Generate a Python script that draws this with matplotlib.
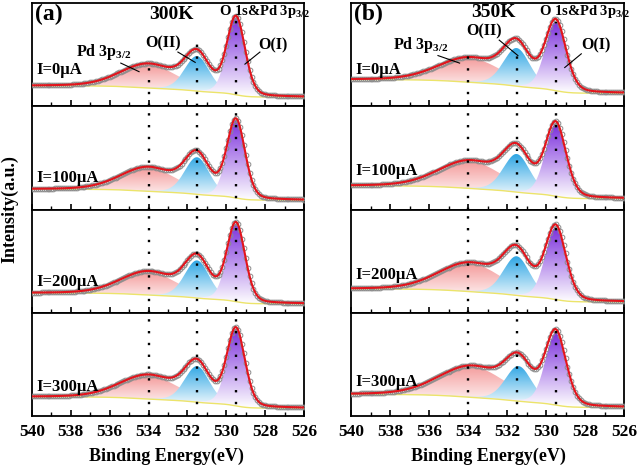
import numpy as np
import matplotlib
matplotlib.use('Agg')
import matplotlib.pyplot as plt
from matplotlib.colors import to_rgb
from matplotlib.patches import PathPatch
from matplotlib.path import Path
from matplotlib.ticker import MultipleLocator

plt.rcParams['font.family'] = ['Liberation Serif', 'DejaVu Serif']
plt.rcParams['font.weight'] = 'bold'
plt.rcParams['mathtext.fontset'] = 'custom'
plt.rcParams['mathtext.rm'] = 'Liberation Serif:bold'
plt.rcParams['mathtext.it'] = 'Liberation Serif:bold'
plt.rcParams['mathtext.bf'] = 'Liberation Serif:bold'
plt.rcParams['mathtext.default'] = 'rm'

# ---------------- data ----------------
dotted_energies = [534.0, 531.5, 529.5]
currents = ['I=0μA', 'I=100μA', 'I=200μA', 'I=300μA']
temps = ['300K', '350K']
panel_tags = ['(a)', '(b)']

# 300 K panel (values in % of each sub-plot height)
a_bg_left = [20.0, 19.7, 19.0, 18.3]
a_bg_right = [9.0, 9.0, 8.5, 7.3]
a_pd_center = [534.0, 534.0, 534.0, 534.0]
a_pd_height = [23.0, 23.0, 22.5, 23.0]
a_pd_fwhm = [3.4, 3.4, 3.4, 3.5]
a_o2_center = [531.5, 531.5, 531.5, 531.5]
a_o2_height = [34.0, 36.0, 36.5, 35.0]
a_o2_fwhm = [1.5, 1.5, 1.5, 1.5]
a_o1_center = [529.5, 529.5, 529.5, 529.5]
a_o1_height = [75.0, 75.5, 75.5, 74.5]
a_o1_fwhm = [1.1, 1.1, 1.1, 1.1]

# 350 K panel
b_bg_left = [26.0, 23.0, 23.0, 20.7]
b_bg_right = [12.7, 10.5, 10.3, 8.0]
b_pd_center = [533.9, 533.9, 533.9, 533.8]
b_pd_height = [23.5, 26.5, 27.5, 30.0]
b_pd_fwhm = [3.8, 3.8, 3.8, 4.0]
b_o2_center = [531.5, 531.5, 531.5, 531.4]
b_o2_height = [37.0, 37.0, 38.0, 34.0]
b_o2_fwhm = [1.6, 1.6, 1.6, 1.6]
b_o1_center = [529.5, 529.5, 529.5, 529.5]
b_o1_height = [67.0, 70.0, 70.0, 70.0]
b_o1_fwhm = [1.25, 1.25, 1.25, 1.25]

# top of the dotted guide lines in the first sub-plot of each panel
a_guide_top = [44, 61, 88]
b_guide_top = [53, 58, 82]

panels = [
    dict(bgL=a_bg_left, bgR=a_bg_right, guide=a_guide_top,
         peaks=[(a_pd_center, a_pd_height, a_pd_fwhm),
                (a_o2_center, a_o2_height, a_o2_fwhm),
                (a_o1_center, a_o1_height, a_o1_fwhm)]),
    dict(bgL=b_bg_left, bgR=b_bg_right, guide=b_guide_top,
         peaks=[(b_pd_center, b_pd_height, b_pd_fwhm),
                (b_o2_center, b_o2_height, b_o2_fwhm),
                (b_o1_center, b_o1_height, b_o1_fwhm)]),
]

peak_colors = ['#f49a9a', '#2ea6e4', '#7b2fdc']


def pvoigt(x, c, h, f, eta=0.2):
    u = (x - c) / f
    g = np.exp(-4 * np.log(2) * u ** 2)
    l = 1.0 / (1 + 4 * u ** 2)
    return h * ((1 - eta) * g + eta * l)


def grad_fill(ax, x, lower, upper, color, z):
    verts = np.concatenate([np.column_stack([x, upper]),
                            np.column_stack([x[::-1], lower[::-1]])])
    patch = PathPatch(Path(verts), facecolor='none', edgecolor='none')
    ax.add_patch(patch)
    ymin, ymax = lower.min(), upper.max()
    n = 256
    t = np.linspace(0, 1, n)[:, None, None]
    rgb = np.array(to_rgb(color))[None, None, :]
    white = np.ones((1, 1, 3))
    img = (1 - t) * white + t * rgb
    im = ax.imshow(img, extent=[x.min(), x.max(), ymin, ymax], origin='lower',
                   aspect='auto', zorder=z, interpolation='bilinear')
    im.set_clip_path(patch)


fig = plt.figure(figsize=(6.38, 4.68), dpi=100)
W, H = 638, 468
lefts = [32 / W, 351 / W]
widths = [272 / W, 273 / W]
top = 1 - 3.3 / H
bot = 1 - 415.7 / H
h = (top - bot) / 4

x = np.linspace(526, 540, 1401)
xm = np.linspace(526, 540, 141)

lab_fs = 11.5
for p in range(2):
    P = panels[p]
    for i in range(4):
        ax = fig.add_axes([lefts[p], top - (i + 1) * h, widths[p], h])
        comps = [pvoigt(x, P['peaks'][k][0][i], P['peaks'][k][1][i], P['peaks'][k][2][i])
                 for k in range(3)]
        total = np.sum(comps, axis=0)
        cum = np.concatenate([[0], np.cumsum((total[1:] + total[:-1]) / 2 * np.diff(x))])
        bg = P['bgR'][i] + (P['bgL'][i] - P['bgR'][i]) * cum / cum[-1]
        for k in range(3):
            grad_fill(ax, x, bg, bg + comps[k], peak_colors[k], 1 + k)
        ax.plot(x, bg, color='#ece46a', lw=1.0, zorder=4)
        env = bg + total
        env_m = np.interp(xm, x, env)
        ax.plot(xm, env_m, ls='none', marker='o', ms=3.4, mfc='none',
                mec='#8c8c8c', mew=0.7, zorder=5)
        ax.plot(x, env, color='#e3141c', lw=1.5, zorder=6)
        for j, e in enumerate(dotted_energies):
            ymax = P['guide'][j] / 100 if i == 0 else 1.0
            ax.axvline(e, ymin=0, ymax=ymax, color='k', ls=(0, (1, 4)), lw=1.7, zorder=7)
        ax.set_xlim(540, 526)
        ax.set_ylim(0, 100)
        ax.set_yticks([])
        ax.xaxis.set_major_locator(MultipleLocator(2))
        ax.xaxis.set_minor_locator(MultipleLocator(1))
        ax.tick_params(axis='x', which='major', direction='in', length=4.5, width=1.2,
                       labelsize=12.5, pad=6, labelbottom=(i == 3))
        ax.tick_params(axis='x', which='minor', direction='in', length=3, width=1.0)
        for sp in ax.spines.values():
            sp.set_linewidth(1.3)
        for lab in ax.get_xticklabels():
            lab.set_fontweight('bold')
        ax.text(539.75, [35, 31, 30, 28][i] if p == 0 else [35.3, 37.3, 36.3, 33][i],
                currents[i], fontsize=12, fontweight='bold', ha='left', va='center', zorder=8)
        if i == 0:
            if p == 0:
                ax.text(539.16, 89.3, panel_tags[p], fontsize=17, fontweight='bold',
                        ha='center', va='center', zorder=8)
                ax.text(532.8, 89.3, temps[p], fontsize=14, fontweight='bold',
                        ha='center', va='center', zorder=8)
                ax.text(528.05, 92.5, 'O 1s&Pd 3p$_{3/2}$', fontsize=10.5, fontweight='bold',
                        ha='center', va='center', zorder=8)
                ax.text(536.3, 53, 'Pd 3p$_{3/2}$', fontsize=lab_fs, fontweight='bold',
                        ha='center', va='center', zorder=8)
                ax.plot([535.43, 534.49], [42, 33.7], color='k', lw=0.8, zorder=8)
                ax.text(533.25, 61, 'O(II)', fontsize=lab_fs, fontweight='bold',
                        ha='center', va='center', zorder=8)
                ax.plot([532.49, 531.6], [52.7, 42.7], color='k', lw=0.8, zorder=8)
                ax.text(527.6, 59.3, 'O(I)', fontsize=lab_fs, fontweight='bold',
                        ha='center', va='center', zorder=8)
                ax.plot([528.27, 529.04], [52.7, 41], color='k', lw=0.8, zorder=8)
            else:
                ax.text(539.13, 89.3, panel_tags[p], fontsize=17, fontweight='bold',
                        ha='center', va='center', zorder=8)
                ax.text(532.72, 91, temps[p], fontsize=14, fontweight='bold',
                        ha='center', va='center', zorder=8)
                ax.text(528.0, 92.5, 'O 1s&Pd 3p$_{3/2}$', fontsize=10.5, fontweight='bold',
                        ha='center', va='center', zorder=8)
                ax.text(536.4, 59.3, 'Pd 3p$_{3/2}$', fontsize=lab_fs, fontweight='bold',
                        ha='center', va='center', zorder=8)
                ax.plot([535.54, 534.43], [49.3, 42], color='k', lw=0.8, zorder=8)
                ax.text(533.2, 72.7, 'O(II)', fontsize=lab_fs, fontweight='bold',
                        ha='center', va='center', zorder=8)
                ax.plot([532.4, 531.44], [64.3, 49.3], color='k', lw=0.8, zorder=8)
                ax.text(527.45, 59.3, 'O(I)', fontsize=lab_fs, fontweight='bold',
                        ha='center', va='center', zorder=8)
                ax.plot([528.19, 529.04], [51, 37.7], color='k', lw=0.8, zorder=8)

fig.text(10 / W, 1 - 209 / H, 'Intensity(a.u.)', rotation=90, fontsize=13,
         fontweight='bold', ha='center', va='center')
fig.text(166.7 / W, 1 - 456 / H, 'Binding Energy(eV)', fontsize=13,
         fontweight='bold', ha='center', va='center')
fig.text(488 / W, 1 - 456 / H, 'Binding Energy(eV)', fontsize=13,
         fontweight='bold', ha='center', va='center')

fig.savefig('out.png', dpi=100)
